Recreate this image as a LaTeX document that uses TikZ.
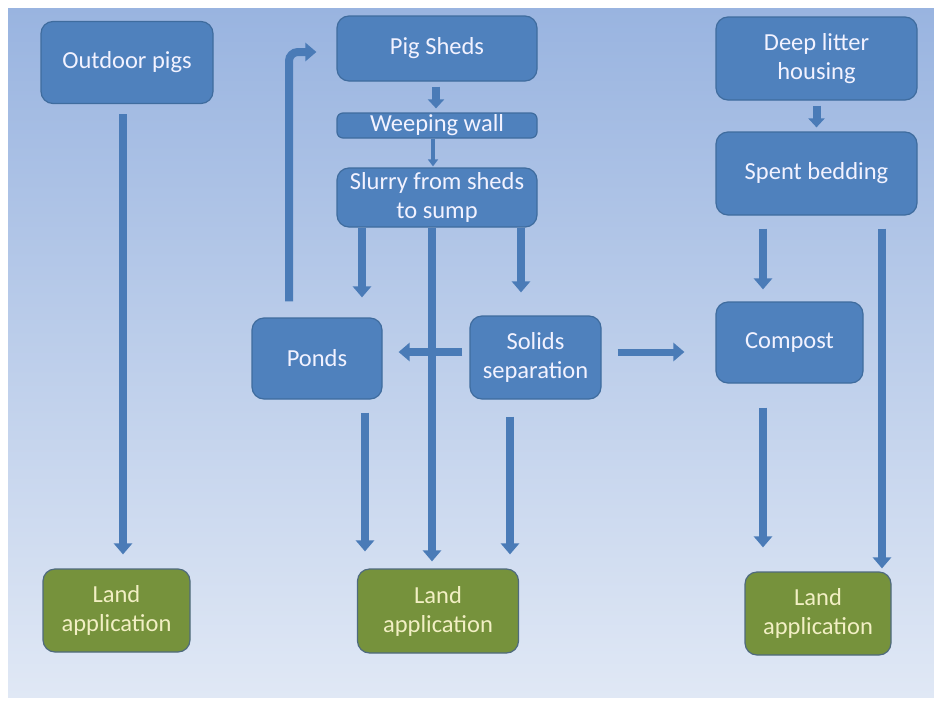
\documentclass[tikz,border=0pt]{standalone}
\usepackage{fontspec}
\setmainfont{Carlito}
\usetikzlibrary{arrows.meta,calc}

\definecolor{boxblue}{HTML}{4F81BD}
\definecolor{boxedge}{HTML}{3F6C9E}
\definecolor{landgreen}{HTML}{76923C}
\definecolor{landedge}{HTML}{4F6A7E}
\definecolor{landtext}{HTML}{F2EFC4}
\definecolor{flowblue}{HTML}{4A7BB7}
\definecolor{bgtop}{HTML}{99B4E0}
\definecolor{bgbottom}{HTML}{E0E8F5}

\begin{document}
\begin{tikzpicture}[x=1pt, y=-1pt,
    font=\fontsize{24.5}{29}\selectfont,
    stage/.style={draw=boxedge, line width=1.2pt, fill=boxblue, text=white!95!blue,
      rounded corners=12pt, align=center, inner sep=0pt},
    land/.style={stage, fill=landgreen, draw=landedge, text=landtext},
    flow/.style={draw=flowblue, line width=8pt, -{Triangle[width=18pt,length=11pt]}},
    stub/.style={draw=flowblue, line width=8pt, -{Triangle[width=16pt,length=9pt]}},
    thin flow/.style={draw=flowblue, line width=4pt, -{Triangle[width=10pt,length=7pt]}}]

  % page and background
  \useasboundingbox (0,0) rectangle (934,707);
  \fill[white] (0,0) rectangle (934,707);
  \shade[top color=bgtop, bottom color=bgbottom] (8,8) rectangle (934,697);

  % left column
  \node[stage, minimum width=172pt, minimum height=82pt] (outdoor) at (127,62.5) {Outdoor pigs};
  \node[land, minimum width=147pt, minimum height=83pt] (land1) at (116.5,610.5) {Land\\application};

  % middle column
  \node[stage, minimum width=200pt, minimum height=65pt] (sheds) at (437,48.5) {Pig Sheds};
  \node[stage, rounded corners=6pt, minimum width=200pt, minimum height=25pt] (weeping) at (437,125.5) {Weeping wall};
  \node[stage, minimum width=200pt, minimum height=59pt] (slurry) at (437,197.5) {Slurry from sheds\\to sump};
  \node[stage, minimum width=130pt, minimum height=81pt] (ponds) at (317,358.5) {Ponds};
  \node[stage, minimum width=131pt, minimum height=83pt] (solids) at (535.5,357.5) {Solids\\separation};
  \node[land, minimum width=161pt, minimum height=84pt] (land2) at (438,611) {Land\\application};

  % right column
  \node[stage, minimum width=201pt, minimum height=83pt] (deep) at (816.5,58.5) {Deep litter\\housing};
  \node[stage, minimum width=201pt, minimum height=83pt] (bedding) at (816.5,173.5) {Spent bedding};
  \node[stage, minimum width=147pt, minimum height=81pt] (compost) at (789.5,342.5) {Compost};
  \node[land, minimum width=146pt, minimum height=83pt] (land3) at (818,613.5) {Land\\application};

  % outdoor pigs straight to land
  \draw[flow, shorten <=10pt, shorten >=14pt] ([xshift=-4pt]outdoor.south) -- ([xshift=-4pt]outdoor.south |- land1.north);

  % pond water recycled to the sheds
  \draw[flow, rounded corners=9pt, shorten <=16pt, shorten >=20pt] ([xshift=-28pt]ponds.north) |- ([yshift=-3.5pt]sheds.west);

  % shed chain
  \draw[stub, shorten <=5pt, shorten >=4pt] ([xshift=-1pt]sheds.south) -- ([xshift=-1pt]weeping.north);
  \draw[thin flow, shorten <=0pt, shorten >=1pt] ([xshift=-4pt]weeping.south) -- ([xshift=-4pt]slurry.north);

  % slurry split three ways
  \draw[flow, shorten >=20pt] ([xshift=-75pt]slurry.south) -- ([xshift=-75pt]slurry.south |- ponds.north);
  \draw[flow, shorten >=7pt] ([xshift=-5pt]slurry.south) -- ([xshift=-5pt]slurry.south |- land2.north);
  \draw[flow, shorten >=23pt] ([xshift=84pt]slurry.south) -- ([xshift=84pt]slurry.south |- solids.north);

  % separation outputs
  \draw[flow, shorten <=7pt, shorten >=16pt] ([yshift=5.5pt]solids.west) -- ([yshift=5.5pt]solids.west -| ponds.east);
  \draw[flow, line width=7pt, shorten <=16pt, shorten >=31pt] ([yshift=5.5pt]solids.east) -- ([yshift=5.5pt]solids.east -| compost.west);
  \draw[flow, shorten <=13pt, shorten >=17pt] ([xshift=48pt]ponds.south) -- ([xshift=48pt]ponds.south |- land2.north);
  \draw[flow, shorten <=17pt, shorten >=14pt] ([xshift=-25.5pt]solids.south) -- ([xshift=-25.5pt]solids.south |- land2.north);

  % deep litter chain
  \draw[stub, shorten <=5pt, shorten >=4pt] (deep.south) -- (bedding.north);
  \draw[flow, shorten <=13pt, shorten >=12pt] ([xshift=-53.5pt]bedding.south) -- ([xshift=-53.5pt]bedding.south |- compost.north);
  \draw[flow, shorten <=13pt, shorten >=3pt] ([xshift=65.5pt]bedding.south) -- ([xshift=65.5pt]bedding.south |- land3.north);
  \draw[flow, shorten <=24pt, shorten >=24pt] ([xshift=-26.5pt]compost.south) -- ([xshift=-26.5pt]compost.south |- land3.north);
\end{tikzpicture}
\end{document}
